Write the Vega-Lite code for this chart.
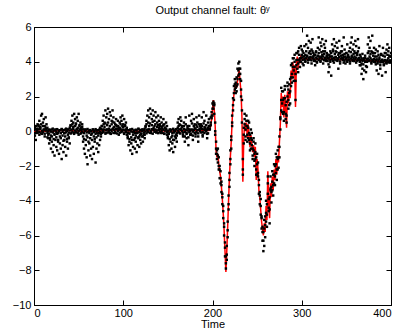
{
  "$schema": "https://vega.github.io/schema/vega-lite/v6.json",
  "width": 357,
  "height": 278,
  "autosize": {"type": "none"},
  "padding": {"left": 34, "top": 27, "right": 15, "bottom": 24},
  "background": "white",
  "title": {"text": "Output channel fault: θʸ", "font": "Liberation Sans", "fontSize": 11, "fontWeight": "normal", "color": "black", "baseline": "alphabetic", "offset": -4, "anchor": "middle", "frame": "group"},
  "config": {
    "view": {"stroke": "black", "strokeWidth": 1},
    "axis": {"grid": false, "domainColor": "black", "domainWidth": 1, "tickColor": "black", "tickSize": -5, "labelColor": "black", "labelFont": "Liberation Sans", "labelFontSize": 11, "titleFont": "Liberation Sans", "titleFontSize": 11, "titleFontWeight": "normal", "titleColor": "black"}
  },
  "datasets": {
    "red": [
      {"t":0,"r":0.0},{"t":10,"r":0.02},{"t":20,"r":-0.02},{"t":30,"r":0.05},{"t":40,"r":0.05},{"t":50,"r":0.0},{"t":60,"r":0.02},{"t":70,"r":0.0},{"t":80,"r":0.05},{"t":90,"r":0.08},{"t":100,"r":0.05},{"t":110,"r":0.0},{"t":120,"r":0.0},{"t":130,"r":0.05},{"t":140,"r":0.05},{"t":150,"r":0.0},{"t":160,"r":0.02},{"t":170,"r":0.05},{"t":180,"r":0.05},{"t":190,"r":0.05},
      {"t":196,"r":0.05},{"t":197,"r":0.1},{"t":198,"r":0.3},{"t":199,"r":0.7},{"t":200,"r":1.2},{"t":201,"r":1.8},{"t":202,"r":1.2},{"t":203,"r":0.3},{"t":204,"r":-1.1},{"t":205,"r":-1.5},{"t":206,"r":-1.3},{"t":207,"r":-1.9},{"t":208,"r":-2.3},{"t":209,"r":-2.6},
      {"t":210,"r":-3.2},{"t":211,"r":-3.9},{"t":212,"r":-4.7},{"t":213,"r":-5.7},{"t":214,"r":-6.9},{"t":215,"r":-8.1},{"t":216,"r":-6.9},{"t":217,"r":-5.5},{"t":218,"r":-4.0},{"t":219,"r":-2.6},
      {"t":220,"r":-1.5},{"t":221,"r":-0.6},{"t":222,"r":0.6},{"t":223,"r":1.6},{"t":224,"r":2.1},{"t":225,"r":2.5},{"t":226,"r":2.7},{"t":227,"r":2.5},{"t":228,"r":2.9},{"t":229,"r":3.3},
      {"t":230,"r":3.5},{"t":231,"r":2.8},{"t":232,"r":2.2},{"t":233,"r":0.8},{"t":234,"r":-2.9},{"t":235,"r":-0.5},{"t":236,"r":0.5},{"t":237,"r":0.0},{"t":238,"r":0.5},{"t":239,"r":-0.4},
      {"t":240,"r":0.4},{"t":241,"r":-0.3},{"t":242,"r":-0.9},{"t":243,"r":-0.2},{"t":244,"r":-0.7},{"t":245,"r":-1.2},{"t":246,"r":-0.8},{"t":247,"r":-1.5},{"t":248,"r":-0.9},{"t":249,"r":-2.8},
      {"t":250,"r":-1.6},{"t":251,"r":-2.2},{"t":252,"r":-3.4},{"t":253,"r":-3.8},{"t":254,"r":-4.5},{"t":255,"r":-5.2},{"t":256,"r":-5.6},{"t":257,"r":-6.0},{"t":258,"r":-5.3},{"t":259,"r":-5.8},
      {"t":260,"r":-4.3},{"t":261,"r":-5.1},{"t":262,"r":-2.3},{"t":263,"r":-4.2},{"t":264,"r":-5.0},{"t":265,"r":-3.0},{"t":266,"r":-3.8},{"t":267,"r":-2.6},{"t":268,"r":-3.4},{"t":269,"r":-2.2},
      {"t":270,"r":-2.8},{"t":271,"r":-1.6},{"t":272,"r":-2.5},{"t":273,"r":-1.4},{"t":274,"r":-1.8},{"t":275,"r":-0.6},{"t":276,"r":0.4},{"t":277,"r":2.2},{"t":278,"r":1.4},{"t":279,"r":2.0},
      {"t":280,"r":0.8},{"t":281,"r":2.1},{"t":282,"r":1.2},{"t":283,"r":0.2},{"t":284,"r":2.3},{"t":285,"r":1.6},{"t":286,"r":2.4},{"t":287,"r":1.9},{"t":288,"r":3.5},{"t":289,"r":3.0},
      {"t":290,"r":4.0},{"t":291,"r":3.2},{"t":292,"r":3.8},{"t":293,"r":1.4},{"t":294,"r":3.9},{"t":295,"r":4.3},{"t":296,"r":3.6},{"t":297,"r":4.2},{"t":298,"r":3.9},{"t":299,"r":4.3},
      {"t":300,"r":4.2},{"t":305,"r":4.15},{"t":310,"r":4.2},{"t":315,"r":4.12},{"t":320,"r":4.18},{"t":325,"r":4.15},{"t":330,"r":4.18},{"t":335,"r":4.15},{"t":340,"r":4.15},{"t":345,"r":4.12},
      {"t":350,"r":4.14},{"t":355,"r":4.1},{"t":360,"r":4.12},{"t":365,"r":4.08},{"t":370,"r":4.1},{"t":375,"r":4.06},{"t":380,"r":4.06},{"t":385,"r":4.03},{"t":390,"r":4.04},{"t":395,"r":4.0},{"t":400,"r":4.02}
    ],
    "dots": [
      {"t":0,"a":0.08,"b":-0.3},{"t":1,"a":-0.1,"b":0.2},{"t":2,"a":0.12,"b":-0.5},{"t":3,"a":0.0,"b":0.1},{"t":4,"a":-0.08,"b":0.4},{"t":5,"a":0.1,"b":0.3},{"t":6,"a":-0.05,"b":0.6},{"t":7,"a":0.14,"b":0.2},{"t":8,"a":-0.12,"b":0.9},{"t":9,"a":0.03,"b":1.0},
      {"t":10,"a":-0.06,"b":0.5},{"t":11,"a":0.09,"b":0.7},{"t":12,"a":-0.14,"b":0.3},{"t":13,"a":0.05,"b":0.8},{"t":14,"a":0.11,"b":0.4},{"t":15,"a":-0.09,"b":0.2},{"t":16,"a":0.02,"b":-0.4},{"t":17,"a":-0.13,"b":-0.7},{"t":18,"a":0.07,"b":-0.5},{"t":19,"a":-0.02,"b":-1.0},
      {"t":20,"a":0.1,"b":-0.6},{"t":21,"a":-0.07,"b":-1.2},{"t":22,"a":0.04,"b":-0.8},{"t":23,"a":-0.15,"b":-1.4},{"t":24,"a":0.08,"b":-0.5},{"t":25,"a":-0.04,"b":-0.9},{"t":26,"a":0.12,"b":-1.1},{"t":27,"a":-0.1,"b":-0.6},{"t":28,"a":0.0,"b":-1.3},{"t":29,"a":0.06,"b":-0.7},
      {"t":30,"a":-0.11,"b":-1.0},{"t":31,"a":0.13,"b":-1.6},{"t":32,"a":-0.03,"b":-0.8},{"t":33,"a":0.07,"b":-1.2},{"t":34,"a":-0.12,"b":-0.5},{"t":35,"a":0.09,"b":-0.9},{"t":36,"a":-0.06,"b":-1.4},{"t":37,"a":0.02,"b":-0.6},{"t":38,"a":0.11,"b":-1.0},{"t":39,"a":-0.08,"b":-0.4},
      {"t":40,"a":0.05,"b":-0.7},{"t":41,"a":-0.13,"b":0.3},{"t":42,"a":0.1,"b":0.6},{"t":43,"a":-0.02,"b":0.9},{"t":44,"a":0.14,"b":0.5},{"t":45,"a":-0.09,"b":1.0},{"t":46,"a":0.04,"b":0.7},{"t":47,"a":-0.06,"b":0.4},{"t":48,"a":0.12,"b":0.8},{"t":49,"a":-0.1,"b":0.6},
      {"t":50,"a":0.01,"b":1.0},{"t":51,"a":0.08,"b":0.3},{"t":52,"a":-0.14,"b":0.5},{"t":53,"a":0.06,"b":0.2},{"t":54,"a":-0.04,"b":0.4},{"t":55,"a":0.11,"b":-0.6},{"t":56,"a":-0.11,"b":-1.0},{"t":57,"a":0.03,"b":-1.3},{"t":58,"a":0.09,"b":-0.8},{"t":59,"a":-0.07,"b":-1.5},
      {"t":60,"a":0.13,"b":-1.9},{"t":61,"a":-0.02,"b":-1.1},{"t":62,"a":-0.1,"b":-0.7},{"t":63,"a":0.07,"b":-1.4},{"t":64,"a":0.0,"b":-1.0},{"t":65,"a":-0.13,"b":-1.6},{"t":66,"a":0.1,"b":-0.9},{"t":67,"a":-0.05,"b":-1.3},{"t":68,"a":0.04,"b":-0.6},{"t":69,"a":0.12,"b":-1.8},
      {"t":70,"a":-0.08,"b":-1.0},{"t":71,"a":0.06,"b":-0.7},{"t":72,"a":-0.12,"b":-1.2},{"t":73,"a":0.09,"b":-0.8},{"t":74,"a":-0.03,"b":-0.5},{"t":75,"a":0.14,"b":-0.3},{"t":76,"a":-0.09,"b":0.3},{"t":77,"a":0.02,"b":0.6},{"t":78,"a":-0.06,"b":0.9},{"t":79,"a":0.1,"b":0.5},
      {"t":80,"a":-0.14,"b":1.2},{"t":81,"a":0.05,"b":0.8},{"t":82,"a":0.11,"b":1.0},{"t":83,"a":-0.07,"b":1.3},{"t":84,"a":0.03,"b":0.7},{"t":85,"a":-0.11,"b":1.1},{"t":86,"a":0.08,"b":0.9},{"t":87,"a":-0.01,"b":0.6},{"t":88,"a":0.13,"b":1.2},{"t":89,"a":-0.1,"b":0.8},
      {"t":90,"a":0.07,"b":0.5},{"t":91,"a":-0.04,"b":0.4},{"t":92,"a":0.12,"b":0.7},{"t":93,"a":-0.13,"b":0.3},{"t":94,"a":0.02,"b":0.6},{"t":95,"a":0.09,"b":0.2},{"t":96,"a":-0.08,"b":0.5},{"t":97,"a":0.14,"b":0.8},{"t":98,"a":-0.05,"b":0.6},{"t":99,"a":0.0,"b":0.9},
      {"t":100,"a":0.1,"b":0.4},{"t":101,"a":-0.12,"b":0.7},{"t":102,"a":0.05,"b":0.3},{"t":103,"a":-0.03,"b":0.5},{"t":104,"a":0.11,"b":0.2},{"t":105,"a":-0.09,"b":-0.4},{"t":106,"a":0.06,"b":-0.8},{"t":107,"a":-0.14,"b":-0.6},{"t":108,"a":0.08,"b":-1.1},{"t":109,"a":-0.02,"b":-0.7},
      {"t":110,"a":0.13,"b":-1.3},{"t":111,"a":-0.06,"b":-0.9},{"t":112,"a":0.0,"b":-0.5},{"t":113,"a":-0.11,"b":-1.0},{"t":114,"a":0.09,"b":-0.6},{"t":115,"a":0.04,"b":-1.2},{"t":116,"a":-0.1,"b":-0.8},{"t":117,"a":0.12,"b":-0.4},{"t":118,"a":-0.04,"b":-0.9},{"t":119,"a":0.07,"b":-0.5},
      {"t":120,"a":-0.13,"b":-0.7},{"t":121,"a":0.03,"b":-0.3},{"t":122,"a":0.1,"b":-0.6},{"t":123,"a":-0.08,"b":-0.2},{"t":124,"a":0.14,"b":-0.4},{"t":125,"a":-0.01,"b":0.3},{"t":126,"a":-0.12,"b":0.6},{"t":127,"a":0.06,"b":0.9},{"t":128,"a":-0.05,"b":1.2},{"t":129,"a":0.11,"b":0.8},
      {"t":130,"a":-0.09,"b":1.3},{"t":131,"a":0.02,"b":1.0},{"t":132,"a":0.12,"b":0.7},{"t":133,"a":-0.14,"b":1.2},{"t":134,"a":0.07,"b":0.9},{"t":135,"a":-0.03,"b":0.6},{"t":136,"a":0.1,"b":1.1},{"t":137,"a":-0.07,"b":0.8},{"t":138,"a":0.05,"b":0.5},{"t":139,"a":-0.11,"b":0.9},
      {"t":140,"a":0.08,"b":0.6},{"t":141,"a":-0.05,"b":0.4},{"t":142,"a":0.13,"b":0.8},{"t":143,"a":0.0,"b":0.5},{"t":144,"a":-0.1,"b":0.3},{"t":145,"a":0.09,"b":0.7},{"t":146,"a":-0.13,"b":0.4},{"t":147,"a":0.04,"b":0.2},{"t":148,"a":0.11,"b":0.5},{"t":149,"a":-0.06,"b":0.3},
      {"t":150,"a":0.03,"b":-0.4},{"t":151,"a":-0.12,"b":-0.8},{"t":152,"a":0.1,"b":-1.1},{"t":153,"a":-0.02,"b":-0.6},{"t":154,"a":0.06,"b":-1.0},{"t":155,"a":-0.09,"b":-0.7},{"t":156,"a":0.14,"b":-1.2},{"t":157,"a":-0.07,"b":-0.5},{"t":158,"a":0.01,"b":-0.9},{"t":159,"a":0.12,"b":-0.4},
      {"t":160,"a":-0.1,"b":-0.6},{"t":161,"a":0.05,"b":0.5},{"t":162,"a":-0.04,"b":0.7},{"t":163,"a":0.11,"b":0.4},{"t":164,"a":-0.13,"b":0.8},{"t":165,"a":0.08,"b":0.6},{"t":166,"a":0.0,"b":0.3},{"t":167,"a":-0.08,"b":-0.3},{"t":168,"a":0.13,"b":0.5},{"t":169,"a":-0.03,"b":-0.6},
      {"t":170,"a":0.09,"b":0.8},{"t":171,"a":-0.11,"b":-0.4},{"t":172,"a":0.04,"b":0.3},{"t":173,"a":0.12,"b":-0.8},{"t":174,"a":-0.06,"b":0.9},{"t":175,"a":0.02,"b":-0.2},{"t":176,"a":-0.14,"b":0.6},{"t":177,"a":0.1,"b":1.0},{"t":178,"a":-0.02,"b":-0.5},{"t":179,"a":0.07,"b":0.7},
      {"t":180,"a":-0.09,"b":0.4},{"t":181,"a":0.13,"b":-0.3},{"t":182,"a":-0.05,"b":0.8},{"t":183,"a":0.06,"b":0.5},{"t":184,"a":-0.12,"b":-0.6},{"t":185,"a":0.1,"b":0.9},{"t":186,"a":0.01,"b":0.3},{"t":187,"a":-0.07,"b":0.4},{"t":188,"a":0.14,"b":0.8},{"t":189,"a":-0.04,"b":-0.3},
      {"t":190,"a":0.11,"b":1.1},{"t":191,"a":-0.1,"b":0.6},{"t":192,"a":0.05,"b":0.2},{"t":193,"a":-0.01,"b":0.9},{"t":194,"a":0.09,"b":-0.4},{"t":195,"a":-0.12,"b":0.5},{"t":196,"a":0.12,"b":0.7},{"t":197,"a":0.15,"b":0.3},{"t":198,"a":0.35,"b":0.8},{"t":199,"a":0.75,"b":1.1},
      {"t":200,"a":1.3,"b":1.6},{"t":201,"a":1.7,"b":1.3},{"t":202,"a":1.0,"b":1.5},{"t":203,"a":0.5,"b":-0.2},{"t":204,"a":-1.0,"b":-0.6},{"t":205,"a":-1.6,"b":-1.1},{"t":206,"a":-1.4,"b":-1.8},{"t":207,"a":-2.0,"b":-1.5},{"t":208,"a":-2.2,"b":-2.7},{"t":209,"a":-2.7,"b":-2.3},
      {"t":210,"a":-3.1,"b":-3.5},{"t":211,"a":-3.8,"b":-4.2},{"t":212,"a":-4.6,"b":-4.3},{"t":213,"a":-5.5,"b":-6.0},{"t":214,"a":-6.7,"b":-6.4},{"t":215,"a":-7.6,"b":-7.2},{"t":216,"a":-7.1,"b":-7.4},{"t":217,"a":-5.7,"b":-6.1},{"t":218,"a":-4.2,"b":-4.5},{"t":219,"a":-2.8,"b":-3.2},
      {"t":220,"a":-1.6,"b":-1.1},{"t":221,"a":-0.5,"b":-1.0},{"t":222,"a":0.5,"b":0.9},{"t":223,"a":1.5,"b":1.2},{"t":224,"a":2.2,"b":2.6},{"t":225,"a":2.4,"b":3.0},{"t":226,"a":2.8,"b":2.2},{"t":227,"a":2.6,"b":3.1},{"t":228,"a":3.0,"b":3.6},{"t":229,"a":3.2,"b":3.9},
      {"t":230,"a":3.6,"b":4.0},{"t":231,"a":3.0,"b":3.6},{"t":232,"a":2.4,"b":2.9},{"t":233,"a":1.2,"b":1.8},{"t":234,"a":-2.5,"b":-1.6},{"t":235,"a":-0.7,"b":0.2},{"t":236,"a":0.4,"b":1.0},{"t":237,"a":0.1,"b":-0.5},{"t":238,"a":0.3,"b":0.9},{"t":239,"a":-0.2,"b":0.3},
      {"t":240,"a":0.2,"b":-0.4},{"t":241,"a":-0.1,"b":0.5},{"t":242,"a":-0.7,"b":-0.2},{"t":243,"a":-0.4,"b":-1.0},{"t":244,"a":-0.8,"b":-0.1},{"t":245,"a":-1.0,"b":-1.6},{"t":246,"a":-1.1,"b":-0.4},{"t":247,"a":-1.3,"b":-2.0},{"t":248,"a":-1.2,"b":-1.6},{"t":249,"a":-2.2,"b":-1.5},
      {"t":250,"a":-1.9,"b":-2.5},{"t":251,"a":-2.4,"b":-1.8},{"t":252,"a":-3.1,"b":-2.8},{"t":253,"a":-3.7,"b":-4.2},{"t":254,"a":-4.3,"b":-3.9},{"t":255,"a":-5.0,"b":-5.6},{"t":256,"a":-5.5,"b":-6.3},{"t":257,"a":-5.8,"b":-6.9},{"t":258,"a":-5.6,"b":-6.6},{"t":259,"a":-5.4,"b":-4.9},
      {"t":260,"a":-4.7,"b":-5.2},{"t":261,"a":-4.8,"b":-4.2},{"t":262,"a":-3.0,"b":-3.6},{"t":263,"a":-3.9,"b":-4.6},{"t":264,"a":-4.5,"b":-3.8},{"t":265,"a":-3.3,"b":-2.6},{"t":266,"a":-3.5,"b":-4.1},{"t":267,"a":-2.9,"b":-3.4},{"t":268,"a":-3.1,"b":-2.5},{"t":269,"a":-2.5,"b":-3.0},
      {"t":270,"a":-2.6,"b":-2.0},{"t":271,"a":-1.9,"b":-2.4},{"t":272,"a":-2.2,"b":-1.5},{"t":273,"a":-1.6,"b":-2.2},{"t":274,"a":-1.5,"b":-0.9},{"t":275,"a":-0.9,"b":-1.5},{"t":276,"a":0.1,"b":0.8},{"t":277,"a":1.8,"b":1.2},{"t":278,"a":1.6,"b":2.3},{"t":279,"a":1.8,"b":1.0},
      {"t":280,"a":1.1,"b":1.9},{"t":281,"a":1.9,"b":2.6},{"t":282,"a":1.5,"b":0.7},{"t":283,"a":0.9,"b":1.7},{"t":284,"a":2.0,"b":2.8},{"t":285,"a":1.8,"b":2.4},{"t":286,"a":2.2,"b":1.5},{"t":287,"a":2.3,"b":3.0},{"t":288,"a":3.1,"b":2.6},{"t":289,"a":3.3,"b":3.9},
      {"t":290,"a":3.7,"b":3.1},{"t":291,"a":3.5,"b":4.2},{"t":292,"a":3.7,"b":4.4},{"t":293,"a":2.9,"b":3.3},{"t":294,"a":3.8,"b":4.5},{"t":295,"a":4.1,"b":3.6},{"t":296,"a":3.9,"b":4.6},{"t":297,"a":4.1,"b":4.8},{"t":298,"a":4.0,"b":3.7},{"t":299,"a":4.2,"b":4.9},
      {"t":300,"a":4.25,"b":4.7},{"t":301,"a":4.1,"b":4.6},{"t":302,"a":4.3,"b":3.8},{"t":303,"a":4.15,"b":4.9},{"t":304,"a":4.05,"b":4.4},{"t":305,"a":4.2,"b":5.0},{"t":306,"a":4.3,"b":5.5},{"t":307,"a":4.1,"b":4.8},{"t":308,"a":4.22,"b":5.2},{"t":309,"a":4.12,"b":4.6},
      {"t":310,"a":4.28,"b":5.1},{"t":311,"a":4.08,"b":4.7},{"t":312,"a":4.2,"b":5.3},{"t":313,"a":4.3,"b":4.5},{"t":314,"a":4.14,"b":4.4},{"t":315,"a":4.05,"b":3.8},{"t":316,"a":4.24,"b":4.6},{"t":317,"a":4.18,"b":4.0},{"t":318,"a":4.32,"b":4.8},{"t":319,"a":4.1,"b":5.4},
      {"t":320,"a":4.2,"b":4.7},{"t":321,"a":4.06,"b":5.1},{"t":322,"a":4.27,"b":4.9},{"t":323,"a":4.15,"b":5.3},{"t":324,"a":4.3,"b":4.6},{"t":325,"a":4.09,"b":5.0},{"t":326,"a":4.22,"b":4.8},{"t":327,"a":4.13,"b":5.2},{"t":328,"a":4.29,"b":4.5},{"t":329,"a":4.04,"b":4.4},
      {"t":330,"a":4.18,"b":3.4},{"t":331,"a":4.26,"b":3.7},{"t":332,"a":4.1,"b":4.6},{"t":333,"a":4.3,"b":3.2},{"t":334,"a":4.15,"b":5.0},{"t":335,"a":4.05,"b":4.7},{"t":336,"a":4.22,"b":5.3},{"t":337,"a":4.12,"b":4.9},{"t":338,"a":4.28,"b":4.6},{"t":339,"a":4.08,"b":5.1},
      {"t":340,"a":4.2,"b":4.8},{"t":341,"a":4.14,"b":3.6},{"t":342,"a":4.26,"b":5.2},{"t":343,"a":4.02,"b":4.5},{"t":344,"a":4.18,"b":4.6},{"t":345,"a":4.24,"b":4.9},{"t":346,"a":4.1,"b":4.4},{"t":347,"a":4.28,"b":5.4},{"t":348,"a":4.06,"b":4.7},{"t":349,"a":4.16,"b":3.9},
      {"t":350,"a":4.22,"b":4.5},{"t":351,"a":4.08,"b":5.0},{"t":352,"a":4.25,"b":4.3},{"t":353,"a":4.12,"b":4.6},{"t":354,"a":4.02,"b":4.8},{"t":355,"a":4.18,"b":5.1},{"t":356,"a":4.26,"b":5.4},{"t":357,"a":4.1,"b":4.7},{"t":358,"a":4.2,"b":5.0},{"t":359,"a":4.04,"b":4.6},
      {"t":360,"a":4.16,"b":5.2},{"t":361,"a":4.24,"b":4.9},{"t":362,"a":4.06,"b":4.5},{"t":363,"a":4.14,"b":5.3},{"t":364,"a":4.22,"b":4.8},{"t":365,"a":4.0,"b":4.4},{"t":366,"a":4.12,"b":3.8},{"t":367,"a":4.2,"b":3.3},{"t":368,"a":4.05,"b":3.6},{"t":369,"a":4.15,"b":3.0},
      {"t":370,"a":4.08,"b":3.5},{"t":371,"a":4.22,"b":4.0},{"t":372,"a":4.0,"b":3.4},{"t":373,"a":4.14,"b":3.7},{"t":374,"a":4.18,"b":5.0},{"t":375,"a":4.04,"b":5.4},{"t":376,"a":4.1,"b":4.8},{"t":377,"a":4.2,"b":5.2},{"t":378,"a":3.98,"b":4.6},{"t":379,"a":4.12,"b":5.5},
      {"t":380,"a":4.06,"b":4.5},{"t":381,"a":4.16,"b":4.8},{"t":382,"a":3.98,"b":4.3},{"t":383,"a":4.1,"b":4.7},{"t":384,"a":4.14,"b":3.5},{"t":385,"a":4.0,"b":4.6},{"t":386,"a":4.08,"b":3.3},{"t":387,"a":4.15,"b":4.9},{"t":388,"a":3.96,"b":3.6},{"t":389,"a":4.05,"b":4.4},
      {"t":390,"a":4.12,"b":3.2},{"t":391,"a":3.98,"b":4.8},{"t":392,"a":4.06,"b":3.8},{"t":393,"a":4.1,"b":4.5},{"t":394,"a":3.95,"b":3.4},{"t":395,"a":4.04,"b":4.7},{"t":396,"a":4.1,"b":5.0},{"t":397,"a":3.96,"b":4.6},{"t":398,"a":4.02,"b":4.8},{"t":399,"a":4.08,"b":4.3},
      {"t":400,"a":4.0,"b":4.5}
    ],
    "more": [
      {"t":0,"c":0.2},{"t":1,"c":-0.25},{"t":2,"c":0.3},{"t":3,"c":-0.1},{"t":4,"c":0.15},{"t":5,"c":0.35},{"t":6,"c":-0.2},{"t":7,"c":0.25},{"t":8,"c":0.4},{"t":9,"c":-0.15},
      {"t":10,"c":0.3},{"t":11,"c":0.1},{"t":12,"c":-0.3},{"t":13,"c":0.2},{"t":14,"c":0.05},{"t":15,"c":-0.35},{"t":16,"c":-0.2},{"t":17,"c":0.1},{"t":18,"c":-0.4},{"t":19,"c":-0.25},
      {"t":20,"c":-0.3},{"t":21,"c":0.15},{"t":22,"c":-0.45},{"t":23,"c":-0.2},{"t":24,"c":0.1},{"t":25,"c":-0.35},{"t":26,"c":-0.15},{"t":27,"c":-0.5},{"t":28,"c":0.05},{"t":29,"c":-0.3},
      {"t":30,"c":-0.4},{"t":31,"c":0.1},{"t":32,"c":-0.25},{"t":33,"c":-0.55},{"t":34,"c":-0.1},{"t":35,"c":-0.3},{"t":36,"c":0.15},{"t":37,"c":-0.45},{"t":38,"c":-0.2},{"t":39,"c":-0.35},
      {"t":40,"c":0.2},{"t":41,"c":0.35},{"t":42,"c":-0.1},{"t":43,"c":0.4},{"t":44,"c":0.25},{"t":45,"c":-0.15},{"t":46,"c":0.3},{"t":47,"c":0.45},{"t":48,"c":0.1},{"t":49,"c":0.2},
      {"t":50,"c":-0.2},{"t":51,"c":0.35},{"t":52,"c":0.15},{"t":53,"c":-0.1},{"t":54,"c":0.25},{"t":55,"c":-0.3},{"t":56,"c":-0.45},{"t":57,"c":0.1},{"t":58,"c":-0.5},{"t":59,"c":-0.25},
      {"t":60,"c":-0.35},{"t":61,"c":-0.6},{"t":62,"c":0.05},{"t":63,"c":-0.4},{"t":64,"c":-0.2},{"t":65,"c":-0.5},{"t":66,"c":0.1},{"t":67,"c":-0.3},{"t":68,"c":-0.45},{"t":69,"c":-0.15},
      {"t":70,"c":-0.35},{"t":71,"c":0.05},{"t":72,"c":-0.25},{"t":73,"c":-0.1},{"t":74,"c":0.2},{"t":75,"c":-0.15},{"t":76,"c":0.3},{"t":77,"c":0.1},{"t":78,"c":0.4},{"t":79,"c":0.25},
      {"t":80,"c":0.45},{"t":81,"c":-0.1},{"t":82,"c":0.35},{"t":83,"c":0.5},{"t":84,"c":0.15},{"t":85,"c":0.3},{"t":86,"c":-0.15},{"t":87,"c":0.4},{"t":88,"c":0.55},{"t":89,"c":0.2},
      {"t":90,"c":0.25},{"t":91,"c":-0.1},{"t":92,"c":0.35},{"t":93,"c":0.15},{"t":94,"c":0.3},{"t":95,"c":-0.2},{"t":96,"c":0.2},{"t":97,"c":0.4},{"t":98,"c":0.05},{"t":99,"c":0.3},
      {"t":100,"c":0.25},{"t":101,"c":-0.15},{"t":102,"c":0.35},{"t":103,"c":0.1},{"t":104,"c":-0.2},{"t":105,"c":-0.3},{"t":106,"c":-0.1},{"t":107,"c":-0.45},{"t":108,"c":0.1},{"t":109,"c":-0.35},
      {"t":110,"c":-0.5},{"t":111,"c":-0.2},{"t":112,"c":0.05},{"t":113,"c":-0.4},{"t":114,"c":-0.25},{"t":115,"c":-0.1},{"t":116,"c":-0.35},{"t":117,"c":0.15},{"t":118,"c":-0.3},{"t":119,"c":-0.2},
      {"t":120,"c":-0.15},{"t":121,"c":0.1},{"t":122,"c":-0.3},{"t":123,"c":0.05},{"t":124,"c":-0.2},{"t":125,"c":0.25},{"t":126,"c":0.4},{"t":127,"c":0.1},{"t":128,"c":0.5},{"t":129,"c":0.3},
      {"t":130,"c":0.45},{"t":131,"c":-0.1},{"t":132,"c":0.35},{"t":133,"c":0.55},{"t":134,"c":0.2},{"t":135,"c":0.3},{"t":136,"c":0.4},{"t":137,"c":-0.05},{"t":138,"c":0.25},{"t":139,"c":0.35},
      {"t":140,"c":0.2},{"t":141,"c":0.3},{"t":142,"c":-0.1},{"t":143,"c":0.25},{"t":144,"c":0.15},{"t":145,"c":0.35},{"t":146,"c":-0.15},{"t":147,"c":0.2},{"t":148,"c":0.1},{"t":149,"c":-0.2},
      {"t":150,"c":-0.3},{"t":151,"c":-0.15},{"t":152,"c":-0.45},{"t":153,"c":0.1},{"t":154,"c":-0.35},{"t":155,"c":-0.25},{"t":156,"c":-0.5},{"t":157,"c":0.05},{"t":158,"c":-0.3},{"t":159,"c":-0.2},
      {"t":160,"c":-0.25},{"t":161,"c":0.2},{"t":162,"c":0.3},{"t":163,"c":-0.1},{"t":164,"c":0.35},{"t":165,"c":0.15},{"t":166,"c":0.25},{"t":167,"c":-0.2},{"t":168,"c":0.3},{"t":169,"c":-0.3},
      {"t":170,"c":0.4},{"t":171,"c":-0.15},{"t":172,"c":0.2},{"t":173,"c":-0.35},{"t":174,"c":0.3},{"t":175,"c":0.1},{"t":176,"c":-0.2},{"t":177,"c":0.45},{"t":178,"c":-0.25},{"t":179,"c":0.3},
      {"t":180,"c":0.2},{"t":181,"c":-0.15},{"t":182,"c":0.35},{"t":183,"c":0.25},{"t":184,"c":-0.3},{"t":185,"c":0.4},{"t":186,"c":0.15},{"t":187,"c":0.2},{"t":188,"c":0.3},{"t":189,"c":-0.2},
      {"t":190,"c":0.45},{"t":191,"c":0.25},{"t":192,"c":0.1},{"t":193,"c":0.35},{"t":194,"c":-0.15},{"t":195,"c":0.2},{"t":196,"c":0.3},{"t":197,"c":0.1},{"t":198,"c":0.5},{"t":199,"c":0.9},
      {"t":200,"c":0.9},{"t":201,"c":1.5},{"t":202,"c":1.6},{"t":203,"c":0.0},{"t":204,"c":-1.3},{"t":205,"c":-1.3},{"t":206,"c":-1.0},{"t":207,"c":-2.2},{"t":208,"c":-2.0},{"t":209,"c":-3.0},
      {"t":210,"c":-2.9},{"t":211,"c":-3.6},{"t":212,"c":-5.0},{"t":213,"c":-5.3},{"t":214,"c":-7.2},{"t":215,"c":-7.9},{"t":216,"c":-6.6},{"t":217,"c":-5.2},{"t":218,"c":-3.7},{"t":219,"c":-2.4},
      {"t":220,"c":-1.9},{"t":221,"c":-0.3},{"t":222,"c":0.3},{"t":223,"c":1.9},{"t":224,"c":1.8},{"t":225,"c":2.7},{"t":226,"c":2.5},{"t":227,"c":2.3},{"t":228,"c":2.7},{"t":229,"c":3.5},
      {"t":230,"c":3.3},{"t":231,"c":3.3},{"t":232,"c":2.0},{"t":233,"c":0.5},{"t":234,"c":-2.2},{"t":235,"c":-0.2},{"t":236,"c":0.7},{"t":237,"c":-0.3},{"t":238,"c":0.6},{"t":239,"c":-0.6},
      {"t":240,"c":0.6},{"t":241,"c":-0.5},{"t":242,"c":-1.1},{"t":243,"c":0.1},{"t":244,"c":-0.5},{"t":245,"c":-1.4},{"t":246,"c":-0.6},{"t":247,"c":-1.7},{"t":248,"c":-0.7},{"t":249,"c":-2.5},
      {"t":250,"c":-1.3},{"t":251,"c":-2.6},{"t":252,"c":-3.6},{"t":253,"c":-3.5},{"t":254,"c":-4.8},{"t":255,"c":-4.9},{"t":256,"c":-5.8},{"t":257,"c":-6.3},{"t":258,"c":-5.1},{"t":259,"c":-6.1},
      {"t":260,"c":-4.0},{"t":261,"c":-5.5},{"t":262,"c":-2.6},{"t":263,"c":-4.4},{"t":264,"c":-5.3},{"t":265,"c":-3.4},{"t":266,"c":-3.2},{"t":267,"c":-2.3},{"t":268,"c":-3.7},{"t":269,"c":-1.9},
      {"t":270,"c":-3.1},{"t":271,"c":-1.3},{"t":272,"c":-2.8},{"t":273,"c":-1.1},{"t":274,"c":-2.1},{"t":275,"c":-0.3},{"t":276,"c":0.7},{"t":277,"c":2.5},{"t":278,"c":1.1},{"t":279,"c":2.3},
      {"t":280,"c":0.6},{"t":281,"c":2.4},{"t":282,"c":1.0},{"t":283,"c":0.5},{"t":284,"c":2.6},{"t":285,"c":1.3},{"t":286,"c":2.7},{"t":287,"c":1.6},{"t":288,"c":3.8},{"t":289,"c":2.8},
      {"t":290,"c":4.2},{"t":291,"c":2.9},{"t":292,"c":4.0},{"t":293,"c":1.8},{"t":294,"c":4.1},{"t":295,"c":4.5},{"t":296,"c":3.4},{"t":297,"c":4.4},{"t":298,"c":4.2},{"t":299,"c":4.0},
      {"t":300,"c":4.4},{"t":301,"c":3.9},{"t":302,"c":4.5},{"t":303,"c":4.3},{"t":304,"c":4.0},{"t":305,"c":4.6},{"t":306,"c":4.35},{"t":307,"c":3.95},{"t":308,"c":4.5},{"t":309,"c":4.25},
      {"t":310,"c":4.45},{"t":311,"c":3.9},{"t":312,"c":4.6},{"t":313,"c":4.3},{"t":314,"c":4.05},{"t":315,"c":4.4},{"t":316,"c":4.55},{"t":317,"c":3.95},{"t":318,"c":4.35},{"t":319,"c":4.5},
      {"t":320,"c":4.3},{"t":321,"c":4.0},{"t":322,"c":4.55},{"t":323,"c":4.4},{"t":324,"c":3.9},{"t":325,"c":4.45},{"t":326,"c":4.6},{"t":327,"c":4.05},{"t":328,"c":4.35},{"t":329,"c":4.2},
      {"t":330,"c":3.85},{"t":331,"c":4.4},{"t":332,"c":4.0},{"t":333,"c":4.5},{"t":334,"c":4.3},{"t":335,"c":4.6},{"t":336,"c":3.95},{"t":337,"c":4.45},{"t":338,"c":4.25},{"t":339,"c":4.55},
      {"t":340,"c":4.05},{"t":341,"c":4.4},{"t":342,"c":4.5},{"t":343,"c":3.9},{"t":344,"c":4.35},{"t":345,"c":4.6},{"t":346,"c":4.2},{"t":347,"c":3.95},{"t":348,"c":4.45},{"t":349,"c":4.3},
      {"t":350,"c":4.5},{"t":351,"c":4.0},{"t":352,"c":4.4},{"t":353,"c":4.25},{"t":354,"c":3.9},{"t":355,"c":4.55},{"t":356,"c":4.35},{"t":357,"c":4.05},{"t":358,"c":4.45},{"t":359,"c":4.3},
      {"t":360,"c":4.5},{"t":361,"c":3.95},{"t":362,"c":4.4},{"t":363,"c":4.6},{"t":364,"c":4.1},{"t":365,"c":3.8},{"t":366,"c":4.3},{"t":367,"c":3.9},{"t":368,"c":4.45},{"t":369,"c":3.85},
      {"t":370,"c":4.2},{"t":371,"c":4.35},{"t":372,"c":3.75},{"t":373,"c":4.0},{"t":374,"c":4.5},{"t":375,"c":4.6},{"t":376,"c":4.3},{"t":377,"c":4.45},{"t":378,"c":3.9},{"t":379,"c":4.55},
      {"t":380,"c":4.35},{"t":381,"c":4.0},{"t":382,"c":4.5},{"t":383,"c":3.85},{"t":384,"c":4.3},{"t":385,"c":3.9},{"t":386,"c":4.4},{"t":387,"c":4.25},{"t":388,"c":3.8},{"t":389,"c":4.45},
      {"t":390,"c":4.0},{"t":391,"c":4.35},{"t":392,"c":3.85},{"t":393,"c":4.3},{"t":394,"c":4.5},{"t":395,"c":3.9},{"t":396,"c":4.4},{"t":397,"c":4.2},{"t":398,"c":4.35},{"t":399,"c":3.95},
      {"t":400,"c":4.3}
    ]
  },
  "layer": [
    {
      "data": {"name": "red"},
      "mark": {"type": "line", "color": "#ff0000", "strokeWidth": 1.5, "clip": true},
      "encoding": {
        "x": {"field": "t", "type": "quantitative", "scale": {"domain": [0, 400], "nice": false}, "axis": {"orient": "bottom", "values": [0, 100, 200, 300, 400], "title": "Time", "titlePadding": 0, "labelPadding": 7}},
        "y": {"field": "r", "type": "quantitative", "scale": {"domain": [-10, 6], "nice": false}, "axis": {"orient": "left", "values": [-10, -8, -6, -4, -2, 0, 2, 4, 6], "title": null, "labelPadding": 8}}
      }
    },
    {
      "data": {"name": "dots"},
      "mark": {"type": "point", "shape": "square", "filled": true, "size": 6, "color": "black", "opacity": 1, "clip": true},
      "encoding": {
        "x": {"field": "t", "type": "quantitative", "axis": null},
        "y": {"field": "a", "type": "quantitative", "axis": null}
      }
    },
    {
      "data": {"name": "more"},
      "mark": {"type": "point", "shape": "square", "filled": true, "size": 6, "color": "black", "opacity": 1, "clip": true},
      "encoding": {
        "x": {"field": "t", "type": "quantitative", "axis": null},
        "y": {"field": "c", "type": "quantitative", "axis": null}
      }
    },
    {
      "data": {"name": "dots"},
      "mark": {"type": "point", "shape": "square", "filled": true, "size": 6, "color": "black", "opacity": 1, "clip": true},
      "encoding": {
        "x": {"field": "t", "type": "quantitative", "axis": null},
        "y": {"field": "b", "type": "quantitative", "axis": null}
      }
    },
    {
      "data": {"name": "red"},
      "mark": {"type": "line", "opacity": 0},
      "encoding": {
        "x": {"field": "t", "type": "quantitative", "axis": {"orient": "top", "values": [0, 100, 200, 300, 400], "labels": false, "title": null, "domain": false}},
        "y": {"field": "r", "type": "quantitative", "axis": {"orient": "right", "values": [-10, -8, -6, -4, -2, 0, 2, 4, 6], "labels": false, "title": null, "domain": false}}
      }
    }
  ],
  "resolve": {"axis": {"x": "independent", "y": "independent"}}
}
